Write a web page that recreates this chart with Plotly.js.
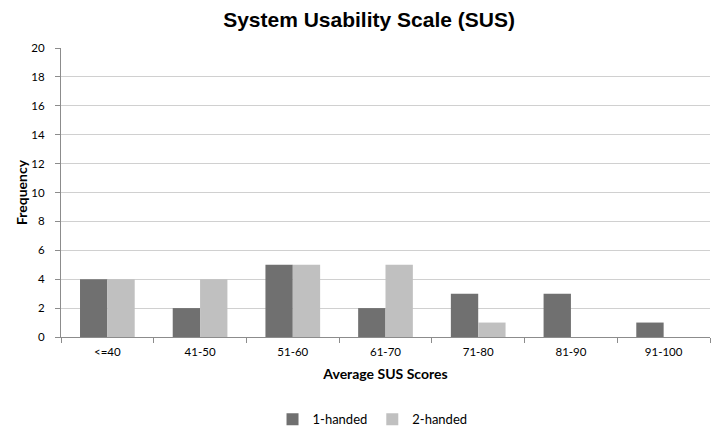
<!DOCTYPE html>
<html>
<head>
<meta charset="utf-8">
<script src="https://cdn.plot.ly/plotly-3.0.1.min.js"></script>
<style>html,body{margin:0;padding:0;background:#fff;}#chart{width:725px;height:429px;}</style>
</head>
<body>
<div id="chart"></div>
<script>
const categories = ["<=40", "41-50", "51-60", "61-70", "71-80", "81-90", "91-100"];
const oneHanded = [4, 2, 5, 2, 3, 3, 1];
const twoHanded = [4, 4, 5, 5, 1, 0, 0];
const seriesNames = ["1-handed", "2-handed"];
const yTicks = [0, 2, 4, 6, 8, 10, 12, 14, 16, 18, 20];

const font = "Lato, 'Open Sans', sans-serif";
const data = [
  {type: "bar", x: categories, y: oneHanded, name: seriesNames[0], marker: {color: "#707070"}},
  {type: "bar", x: categories, y: twoHanded, name: seriesNames[1], marker: {color: "#c0c0c0"}}
];
const layout = {
  width: 725, height: 429,
  margin: {l: 61, r: 15, t: 48, b: 92, autoexpand: false},
  paper_bgcolor: "#fff", plot_bgcolor: "#fff",
  barmode: "group", bargap: 0.41, bargroupgap: 0,
  title: {text: "<b>System Usability Scale (SUS)</b>", font: {family: "'Liberation Sans', Arial, sans-serif", size: 21, color: "#000"}, x: 0.509, xanchor: "center", y: 0.955, yanchor: "middle"},
  xaxis: {
    title: {text: "<b>Average SUS Scores</b>", font: {family: font, size: 14, color: "#000"}, standoff: 12},
    tickfont: {family: font, size: 11.5, color: "#000"},
    showline: true, linecolor: "#8c8c8c", linewidth: 1,
    ticks: "outside", tickson: "boundaries", ticklen: 5, tickcolor: "#8c8c8c",
    ticklabelstandoff: 4,
    showgrid: false, fixedrange: true
  },
  yaxis: {
    title: {text: "<b>Frequency</b>", font: {family: font, size: 14, color: "#000"}, standoff: 0},
    tickfont: {family: font, size: 11.5, color: "#000"},
    range: [0, 20], tickvals: yTicks, ticktext: yTicks.map(String),
    showline: true, linecolor: "#8c8c8c", linewidth: 1,
    ticks: "outside", ticklen: 5, tickcolor: "#8c8c8c",
    ticklabelstandoff: 8,
    showgrid: true, gridcolor: "#d0d0d0", gridwidth: 1, zeroline: false, fixedrange: true
  },
  showlegend: true,
  legend: {orientation: "h", x: 0.48, xanchor: "center", y: -0.285, yanchor: "middle",
    font: {family: font, size: 13, color: "#000"}, itemwidth: 30, traceorder: "normal"}
};
Plotly.newPlot("chart", data, layout, {displayModeBar: false, staticPlot: true});
</script>
</body>
</html>
